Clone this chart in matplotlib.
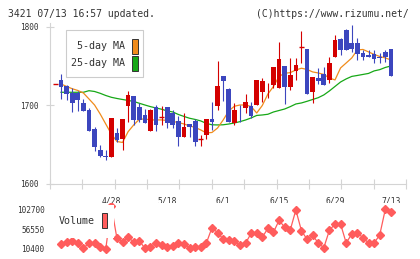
import numpy as np
import matplotlib
matplotlib.use("Agg")
import matplotlib.pyplot as plt
from matplotlib.patches import Rectangle

# ---------------- data ----------------
opens = [1727, 1732.5, 1725, 1715.5, 1716, 1703.5, 1694, 1670, 1643, 1636, 1634,
         1665, 1657, 1699, 1712, 1698, 1688, 1668, 1698.5, 1685, 1698,
         1691, 1680.6, 1660, 1676.4, 1680, 1657, 1662, 1682.4, 1699.4, 1737.6,
         1720.6, 1678, 1689, 1697.2, 1699.4, 1700.6, 1717.6, 1726, 1726, 1722.7,
         1750.3, 1724, 1744, 1774, 1772, 1717.6, 1735.4, 1740, 1732.5, 1762.2,
         1785, 1796, 1779.2, 1779, 1766.5, 1764.3, 1765, 1762, 1768, 1772]
highs = [1727, 1740, 1726, 1722, 1719, 1708, 1697, 1672, 1650, 1643, 1684,
         1671, 1683, 1719, 1712, 1703, 1695, 1695, 1700, 1699, 1698,
         1694, 1686, 1690, 1676.4, 1683, 1662, 1683, 1705, 1756, 1737.6,
         1722, 1703, 1700.6, 1714.3, 1704.8, 1732.5, 1734.7, 1728.3, 1748.6, 1780.5,
         1750.3, 1760, 1760, 1795, 1772, 1736.7, 1747.4, 1749.4, 1762.2, 1789.8,
         1785.6, 1797, 1802, 1785.6, 1770.7, 1770, 1770.7, 1766.5, 1771, 1772.5]
lows = [1727, 1708, 1707, 1692, 1693, 1693, 1668, 1642, 1634, 1630, 1634,
        1654, 1643, 1679, 1675, 1679, 1678, 1668, 1668, 1675, 1671,
        1671, 1648, 1660, 1659.5, 1648, 1648, 1657, 1669, 1694, 1706,
        1679, 1675, 1678.6, 1690, 1683.7, 1700.6, 1704.8, 1709.2, 1722, 1722,
        1701.9, 1719.7, 1732.5, 1754.5, 1714.7, 1703.6, 1727, 1726, 1728, 1762.2,
        1764, 1770.7, 1768, 1758, 1758, 1762, 1753.8, 1753.8, 1755, 1738]
closes = [1727, 1724, 1714, 1703.5, 1707, 1693, 1668, 1647.5, 1636, 1634, 1684,
          1656, 1683, 1713, 1681.5, 1682, 1678, 1694, 1675, 1685, 1678,
          1675, 1660, 1672.6, 1673, 1653, 1657, 1683, 1679, 1725, 1731.6,
          1679.4, 1694, 1688.8, 1704.8, 1686.6, 1732.5, 1731.2, 1726.1, 1748.6, 1759.2,
          1724, 1738.9, 1751.6, 1774, 1714.7, 1736.7, 1731.6, 1726, 1754.5, 1783.4,
          1770.7, 1770.7, 1772, 1765, 1762, 1762.2, 1759, 1760, 1761.4, 1738]
ma5 = [np.nan, 1727.4, 1724.2, 1721.3, 1719.1, 1715.9, 1708.3, 1700.6, 1689.2, 1676.4, 1663.7,
       1654.1, 1652.9, 1666.6, 1675.2, 1682.4, 1682.8, 1681.6, 1681.6, 1681.6, 1680.9,
       1679.6, 1678.3, 1676.4, 1673.9, 1672, 1668.8, 1665, 1665.6, 1671.3, 1681.5,
       1693, 1699, 1700.6, 1700.6, 1698.7, 1690.4, 1700, 1714.6, 1724.2, 1737,
       1741, 1741.8, 1745.2, 1747.4, 1745.9, 1742.7, 1741.4, 1739.5, 1735, 1732.5,
       1747.8, 1754.1, 1760.5, 1770.7, 1771.3, 1768.2, 1765, 1762.4, 1760.5, 1758]
ma25 = [np.nan, 1716.8, 1716.8, 1716.8, 1716.8, 1716.8, 1718.8, 1717.8, 1715.5, 1712.7, 1710.4,
        1708.9, 1707.6, 1706.4, 1705.1, 1702.8, 1700.6, 1698.5, 1696.8, 1695.2, 1693,
        1691.7, 1688.5, 1686, 1683.7, 1682.2, 1680.3, 1677.1, 1675.4, 1675.2, 1675.4,
        1676.4, 1677.7, 1679.4, 1681.5, 1684.1, 1687.3, 1687.9, 1688.8, 1691.7, 1693.6,
        1695.5, 1698.5, 1701.9, 1703.2, 1705.3, 1707.6, 1709.9, 1713.4, 1718.5, 1724.2,
        1729.9, 1733.8, 1737, 1738.2, 1739.5, 1740.8, 1744, 1745.6, 1748.4, 1750.3]
volumes = [np.nan, 22000, 26000, 28300, 24400, 12000, 24400, 24400, 14300, 9700, 110000,
           35300, 27400, 37600, 26700, 29700, 12000, 15700, 24400, 19700, 15700,
           17400, 24400, 22000, 12000, 15700, 15700, 24400, 59900, 48300, 33700,
           30600, 29000, 19000, 23700, 46900, 48300, 37600, 58500, 49200, 77100,
           60900, 54600, 101100, 52900, 32900, 42300, 24400, 13400, 53900, 68500,
           68500, 24400, 45300, 47600, 36700, 24400, 24400, 43000, 102700, 96400]
date_labels = ["4/28", "5/18", "6/1", "6/15", "6/29", "7/13"]
date_label_idx = [10, 20, 30, 40, 50, 60]
price_ticks = [1600, 1700, 1800]
volume_ticks = [10400, 56550, 102700]
ma_names = ["5-day MA", "25-day MA"]
title_left = "3421 07/13 16:57 updated."
title_right = "(C)https://www.rizumu.net/"

# ---------------- style ----------------
W, H = 420, 259
UP = "#d40000"
DOWN = "#3c46be"
C_MA5 = "#f08c1c"
C_MA25 = "#17a817"
C_VOL = "#ff5c5c"
AXC = "#d4d4d4"
TXT = "#333333"
FONT = "DejaVu Sans Mono"

plt.rcParams["font.family"] = [FONT]

fig = plt.figure(figsize=(W / 100, H / 100), dpi=100)
fig.patch.set_facecolor("white")


def fx(x):
    return x / W


def fy(y):
    return 1 - y / H


n = len(closes)
xs = np.arange(n)
xlim = (-0.97, 62.7)

ax = fig.add_axes([fx(50), fy(184), fx(406) - fx(50), fy(23) - fy(184)])
ax.set_xlim(*xlim)
ax.set_ylim(1600, 1805)

# moving averages (beneath the candles)
ax.plot(xs, ma25, color=C_MA25, lw=0.9, zorder=2)
ax.plot(xs, ma5, color=C_MA5, lw=0.9, zorder=2)

bw = 0.84
for i in range(n):
    o, h, l, c = opens[i], highs[i], lows[i], closes[i]
    col = UP if c >= o else DOWN
    ax.vlines(xs[i], l, h, color=col, lw=0.8, zorder=3)
    if abs(c - o) < 0.01:
        ax.hlines(o, xs[i] - bw / 2, xs[i] + bw / 2, color=col, lw=1.0, zorder=4)
    else:
        ax.bar(xs[i], abs(c - o), bottom=min(o, c), width=bw, color=col,
               lw=0, zorder=4)

for s in ["top", "right"]:
    ax.spines[s].set_visible(False)
for s in ["left", "bottom"]:
    ax.spines[s].set_color(AXC)
    ax.spines[s].set_linewidth(0.8)

ax.set_yticks(price_ticks)
ax.set_yticklabels([str(t) for t in price_ticks], fontsize=5.6, color=TXT)
ax.tick_params(axis="y", direction="inout", length=6, width=0.8, color=AXC, pad=5)

ax.set_xticks(np.linspace(xlim[0], xlim[1], 12))
ax.set_xticklabels([])
ax.tick_params(axis="x", direction="inout", length=7, width=0.8, color=AXC)
ax.set_xticks(date_label_idx, minor=True)
ax.set_xticklabels(date_labels, minor=True, fontsize=5.8, color=TXT)
ax.tick_params(axis="x", which="minor", length=0, pad=9)

# price legend
leg = Rectangle((fx(65.7), fy(77.3)), fx(143.3) - fx(65.7), fy(30) - fy(77.3),
                transform=fig.transFigure, facecolor="white", edgecolor="#cccccc",
                lw=0.8, zorder=10)
ax.add_artist(leg)
for k, (name, colr) in enumerate(zip(ma_names, [C_MA5, C_MA25])):
    yc = 46 + k * 17
    ax.text(fx(125), fy(yc), name, transform=fig.transFigure, ha="right",
            va="center", fontsize=7.2, color=TXT, zorder=11)
    ax.add_artist(Rectangle((fx(131.5), fy(yc + 7.5)), fx(6), fy(0) - fy(15),
                            transform=fig.transFigure, facecolor=colr,
                            edgecolor="#333333", lw=0.7, zorder=11))

# ---------------- volume ----------------
axv = fig.add_axes([fx(50), fy(255), fx(406) - fx(50), fy(203) - fy(255)])
axv.set_xlim(*xlim)
axv.set_ylim(-3550, 117350)
axv.plot(xs, volumes, color=C_VOL, lw=0.9, marker="D", ms=3.6, mec=C_VOL,
         mfc=C_VOL, zorder=3)
for s in axv.spines.values():
    s.set_visible(False)
axv.set_xticks([])
axv.set_yticks(volume_ticks)
axv.set_yticklabels([str(t) for t in volume_ticks], fontsize=5.6, color=TXT)
axv.tick_params(axis="y", length=0, pad=4)

axv.add_artist(Rectangle((fx(55), fy(238)), fx(114) - fx(55), fy(205) - fy(238),
                         transform=fig.transFigure, facecolor="white",
                         edgecolor="none", zorder=10))
axv.text(fx(94.5), fy(221.5), "Volume", transform=fig.transFigure, ha="right",
         va="center", fontsize=7.2, color=TXT, zorder=11)
axv.add_artist(Rectangle((fx(101.7), fy(228.3)), fx(5.7), fy(0) - fy(15),
                         transform=fig.transFigure, facecolor=C_VOL,
                         edgecolor="#333333", lw=0.7, zorder=11))

fig.text(fx(8), fy(14), title_left, ha="left", va="center", fontsize=7.0, color=TXT)
fig.text(fx(409), fy(14), title_right, ha="right", va="center", fontsize=7.0, color=TXT)

fig.savefig("out.png", dpi=100, facecolor="white")
